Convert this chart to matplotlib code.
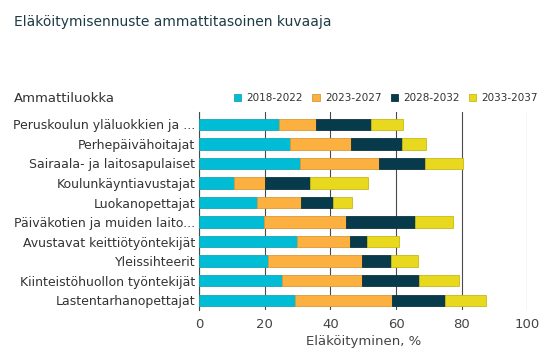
import matplotlib
matplotlib.use("Agg")
import matplotlib.pyplot as plt
import numpy as np

# Occupation groups (top to bottom) and retirement share per period, %
occupations = [
    "Peruskoulun yläluokkien ja ...",
    "Perhepäivähoitajat",
    "Sairaala- ja laitosapulaiset",
    "Koulunkäyntiavustajat",
    "Luokanopettajat",
    "Päiväkotien ja muiden laito...",
    "Avustavat keittiötyöntekijät",
    "Yleissihteerit",
    "Kiinteistöhuollon työntekijät",
    "Lastentarhanopettajat",
]
periods = ["2018-2022", "2023-2027", "2028-2032", "2033-2037"]
p2018 = [24.4, 27.6, 30.7, 10.7, 17.7, 19.8, 29.8, 20.9, 25.2, 29.2]
p2023 = [11.2, 18.6, 24.1, 9.4, 13.2, 24.9, 16.1, 28.6, 24.3, 29.5]
p2028 = [16.7, 15.6, 14.0, 13.8, 9.8, 21.1, 5.1, 8.9, 17.5, 16.1]
p2033 = [9.9, 7.2, 11.7, 17.6, 5.9, 11.6, 10.0, 8.4, 12.3, 12.6]

colors = ["#00bcd4", "#fbb040", "#073b4c", "#e8d81e"]
edges = ["#1aa3b5", "#d99a38", "#0a3340", "#c8b81a"]

plt.rcParams["font.family"] = "DejaVu Sans"

fig = plt.figure(figsize=(5.53, 3.59), dpi=100)
ax = fig.add_axes([0.3604, 0.1365, 0.593, 0.552])

y = np.arange(len(occupations))
left = np.zeros(len(occupations))
for vals, c, ec, name in zip([p2018, p2023, p2028, p2033], colors, edges, periods):
    ax.barh(y, vals, left=left, height=0.58, color=c, edgecolor=ec,
            linewidth=0.6, label=name, zorder=3)
    left += np.array(vals)

ax.set_xlim(0, 100)
ax.set_ylim(len(occupations) - 0.5, -0.64)
ax.set_xticks(range(0, 101, 20))
ax.grid(axis="x", color="#4a4a4a", linewidth=0.8, zorder=0)
ax.set_yticks(y)
ax.set_yticklabels(occupations, fontsize=9, color="#333333")
ax.tick_params(axis="y", length=0, pad=3)
ax.tick_params(axis="x", length=0, labelsize=9.5, labelcolor="#444444", pad=6)
for s in ["top", "right", "bottom"]:
    ax.spines[s].set_visible(False)
ax.spines["left"].set_color("#4a4a4a")
ax.spines["left"].set_linewidth(0.8)
ax.set_xlabel("Eläköityminen, %", fontsize=9.5, color="#444444", labelpad=3)

fig.text(0.025, 0.94, "Eläköitymisennuste ammattitasoinen kuvaaja",
         fontsize=10, color="#1d3b47", va="center")
fig.text(0.025, 0.727, "Ammattiluokka", fontsize=9.5, color="#333333", va="center")

leg = fig.legend(loc="center right", bbox_to_anchor=(0.99, 0.727), ncol=4,
                 frameon=False, fontsize=7.5, handlelength=0.7, handleheight=0.7,
                 handletextpad=0.5, columnspacing=0.9, labelcolor="#333333")

fig.savefig("out.png", dpi=100)
